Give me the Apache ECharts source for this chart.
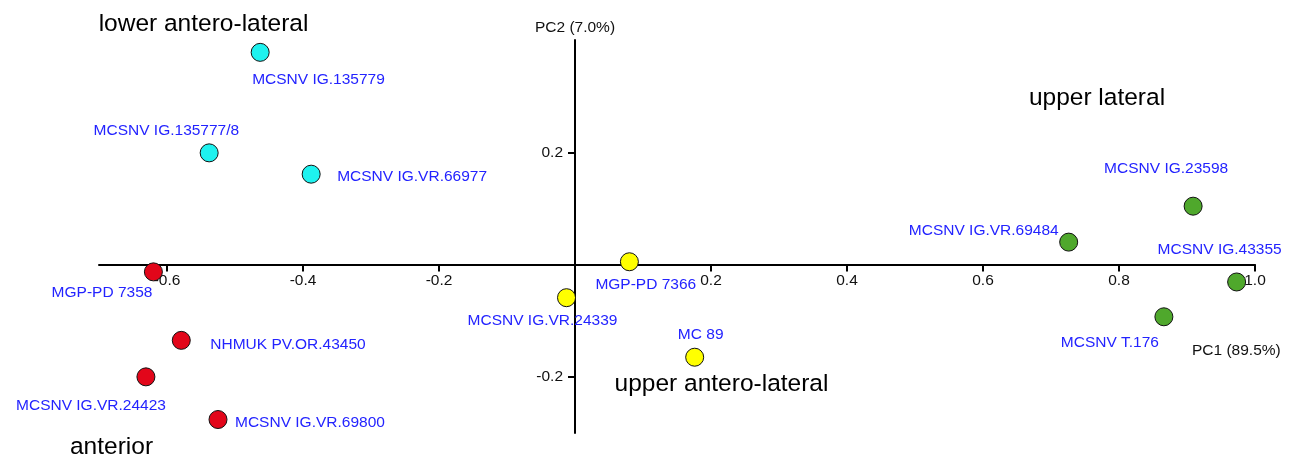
<!DOCTYPE html>
<html>
<head>
<meta charset="utf-8">
<script src="https://cdn.jsdelivr.net/npm/echarts/dist/echarts.min.js"></script>
<style>
  html, body { margin: 0; padding: 0; background: #ffffff; }
  #chart { width: 1292px; height: 458px; }
</style>
</head>
<body>
<div id="chart"></div>
<script>
// ---- Data ----
const groupNames = ['lower antero-lateral', 'anterior', 'upper antero-lateral', 'upper lateral'];

const lowerAnteroLateralNames = ['MCSNV IG.135779', 'MCSNV IG.135777/8', 'MCSNV IG.VR.66977'];
const lowerAnteroLateralPC1 = [-0.463, -0.538, -0.388];
const lowerAnteroLateralPC2 = [0.378, 0.199, 0.161];

const anteriorNames = ['MGP-PD 7358', 'NHMUK PV.OR.43450', 'MCSNV IG.VR.24423', 'MCSNV IG.VR.69800'];
const anteriorPC1 = [-0.620, -0.579, -0.631, -0.525];
const anteriorPC2 = [-0.013, -0.135, -0.200, -0.276];

const upperAnteroLateralNames = ['MGP-PD 7366', 'MCSNV IG.VR.24339', 'MC 89'];
const upperAnteroLateralPC1 = [0.080, -0.0125, 0.176];
const upperAnteroLateralPC2 = [0.005, -0.059, -0.165];

const upperLateralNames = ['MCSNV IG.23598', 'MCSNV IG.VR.69484', 'MCSNV IG.43355', 'MCSNV T.176'];
const upperLateralPC1 = [0.909, 0.726, 0.973, 0.866];
const upperLateralPC2 = [0.104, 0.040, -0.031, -0.093];

const xTickValues = [-0.6, -0.4, -0.2, 0.2, 0.4, 0.6, 0.8, 1.0];
const yTickValues = [-0.2, 0.2];
const xAxisName = 'PC1 (89.5%)';
const yAxisName = 'PC2 (7.0%)';

// ---- Styling / placement (kept apart from data) ----
const groupColors = ['#1ef2ef', '#e2061a', '#ffff00', '#4fa82c'];
// label placement per specimen: [dx, dy, align] relative to marker centre
const lowerAnteroLateralLabelPos = [[-8, 27, 'left'], [30, -22, 'right'], [26, 3, 'left']];
const anteriorLabelPos = [[-1, 21, 'right'], [29, 4, 'left'], [20, 29, 'right'], [17, 3, 'left']];
const upperAnteroLateralLabelPos = [[-34, 23, 'left'], [-24, 23, 'center'], [6, -22, 'center']];
const upperLateralLabelPos = [[-27, -37, 'center'], [-10, -11, 'right'], [-17, -32, 'center'], [-54, 26, 'center']];

const FONT = '"Liberation Sans", Arial, sans-serif';
const SMALL = 15.5;
const BIG = 24.5;
const GRID = { left: 99, right: 37, top: 40, bottom: 25 };

function makeSeries(name, names, xs, ys, labelPos, color) {
  return {
    type: 'scatter',
    name: name,
    symbol: 'circle',
    symbolSize: 18,
    itemStyle: { color: color, borderColor: '#111111', borderWidth: 1, opacity: 1 },
    data: names.map(function (n, i) {
      const p = labelPos[i];
      return {
        name: n,
        value: [xs[i], ys[i]],
        label: {
          show: true,
          position: 'inside',
          formatter: n,
          offset: [p[0], p[1]],
          align: p[2],
          verticalAlign: 'middle',
          color: '#2323ff',
          fontSize: SMALL,
          fontFamily: FONT
        }
      };
    }),
    emphasis: { disabled: true }
  };
}

const chart = echarts.init(document.getElementById('chart'), null, { renderer: 'canvas' });

const option = {
  backgroundColor: '#ffffff',
  animation: false,
  textStyle: { fontFamily: FONT },
  grid: { left: GRID.left, right: GRID.right, top: GRID.top, bottom: GRID.bottom, containLabel: false },
  xAxis: {
    type: 'value',
    position: 'bottom',
    min: -0.7,
    max: 1.0,
    offset: 0,
    axisLine: { show: true, onZero: false, lineStyle: { color: '#000000', width: 2 } },
    axisTick: { show: true, inside: false, length: 7, customValues: xTickValues, lineStyle: { color: '#000000', width: 2 } },
    axisLabel: {
      show: true,
      customValues: xTickValues,
      margin: 8,
      color: '#111111',
      fontSize: SMALL,
      fontFamily: FONT,
      formatter: function (v) { return v.toFixed(1); }
    },
    splitLine: { show: false }
  },
  yAxis: {
    type: 'value',
    position: 'left',
    min: -0.3,
    max: 0.4,
    offset: 0,
    name: yAxisName,
    nameLocation: 'end',
    nameGap: 4,
    nameTextStyle: { color: '#111111', fontSize: SMALL, fontFamily: FONT },
    axisLine: { show: true, onZero: false, lineStyle: { color: '#000000', width: 2 } },
    axisTick: { show: true, inside: false, length: 7, customValues: yTickValues, lineStyle: { color: '#000000', width: 2 } },
    axisLabel: {
      show: true,
      customValues: yTickValues,
      margin: 12,
      color: '#111111',
      fontSize: SMALL,
      fontFamily: FONT,
      formatter: function (v) { return v.toFixed(1); }
    },
    splitLine: { show: false }
  },
  graphic: [
    { type: 'text', left: 1192, top: 343, style: { text: xAxisName, fill: '#111111', font: SMALL + 'px ' + FONT } },
    { type: 'text', x: 203.5, y: 24.5, style: { text: groupNames[0], fill: '#000000', font: BIG + 'px ' + FONT, textAlign: 'center', textVerticalAlign: 'middle' } },
    { type: 'text', x: 111.5, y: 447.5, style: { text: groupNames[1], fill: '#000000', font: BIG + 'px ' + FONT, textAlign: 'center', textVerticalAlign: 'middle' } },
    { type: 'text', x: 721.5, y: 384.5, style: { text: groupNames[2], fill: '#000000', font: BIG + 'px ' + FONT, textAlign: 'center', textVerticalAlign: 'middle' } },
    { type: 'text', x: 1097, y: 98.5, style: { text: groupNames[3], fill: '#000000', font: BIG + 'px ' + FONT, textAlign: 'center', textVerticalAlign: 'middle' } }
  ],
  series: [
    makeSeries(groupNames[0], lowerAnteroLateralNames, lowerAnteroLateralPC1, lowerAnteroLateralPC2, lowerAnteroLateralLabelPos, groupColors[0]),
    makeSeries(groupNames[1], anteriorNames, anteriorPC1, anteriorPC2, anteriorLabelPos, groupColors[1]),
    makeSeries(groupNames[2], upperAnteroLateralNames, upperAnteroLateralPC1, upperAnteroLateralPC2, upperAnteroLateralLabelPos, groupColors[2]),
    makeSeries(groupNames[3], upperLateralNames, upperLateralPC1, upperLateralPC2, upperLateralLabelPos, groupColors[3])
  ]
};

chart.setOption(option);

// Move both axes (line, ticks and labels) so they cross at the origin,
// using the library's own scales to find where zero lies.
const zeroX = chart.convertToPixel({ xAxisIndex: 0 }, 0);
const zeroY = chart.convertToPixel({ yAxisIndex: 0 }, 0);
const gridBottomPx = 458 - GRID.bottom;
chart.setOption({
  xAxis: { offset: -(gridBottomPx - zeroY) },
  yAxis: { offset: -(zeroX - GRID.left) }
});
</script>
</body>
</html>
